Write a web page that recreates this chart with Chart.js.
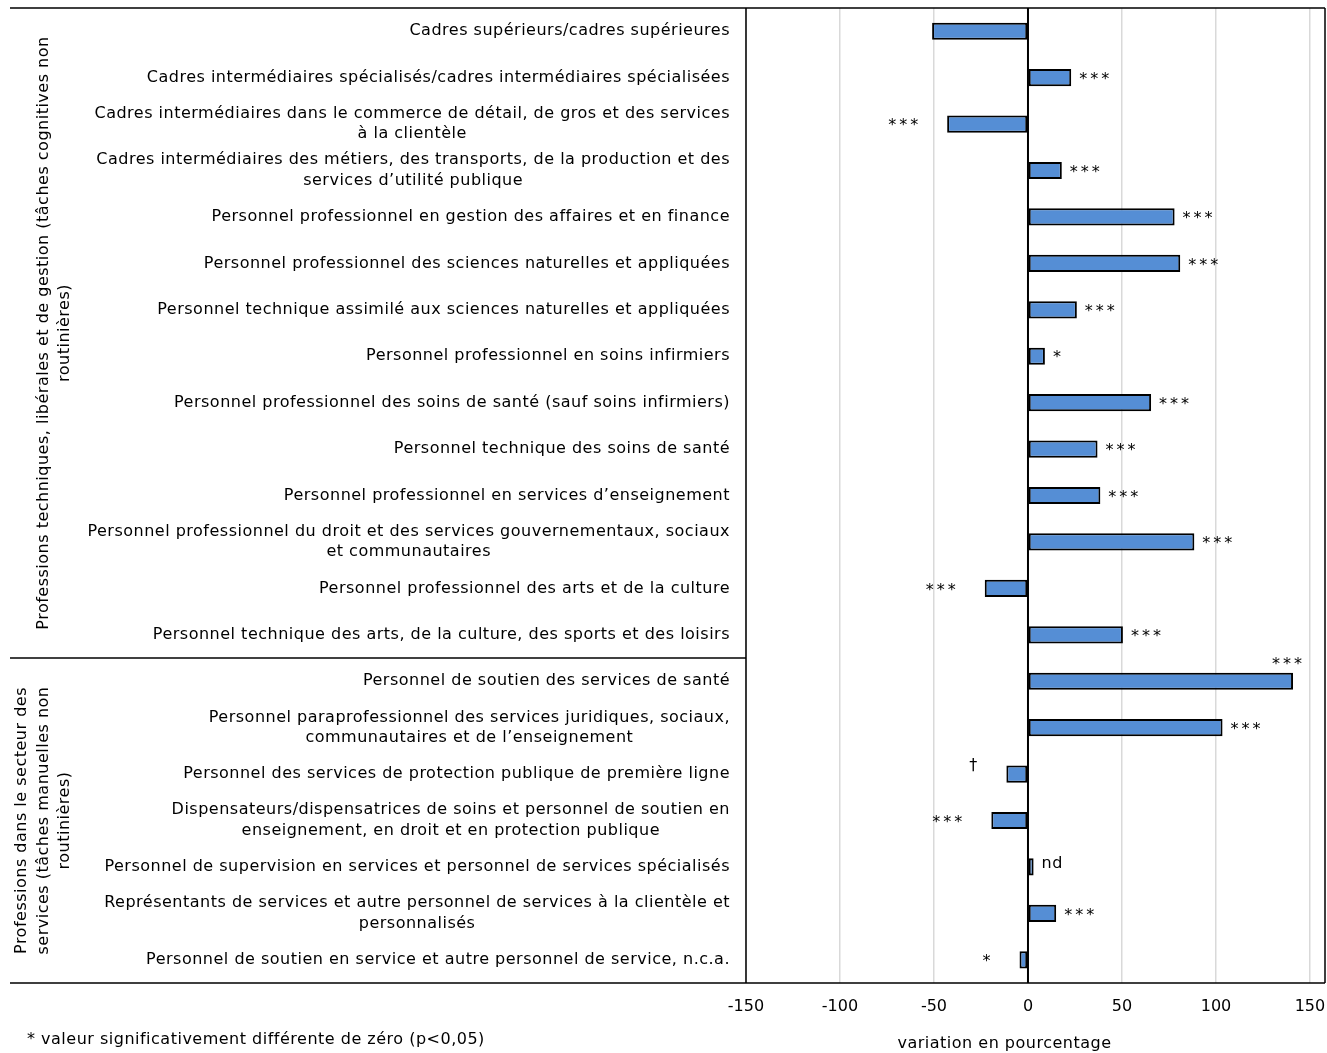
<!DOCTYPE html>
<html>
<head>
<meta charset="utf-8">
<script src="https://cdn.jsdelivr.net/npm/chart.js@4/dist/chart.umd.min.js"></script>
<style>
  body { margin: 0; background: #fff; }
  #wrap { width: 1327px; height: 1053px; position: relative; }
</style>
</head>
<body>
<div id="wrap"><canvas id="chart"></canvas></div>
<script>
// Occupation names (wrapped ones are given line by line)
const categories = [
    'Cadres supérieurs/cadres supérieures',
    'Cadres intermédiaires spécialisés/cadres intermédiaires spécialisées',
    ['Cadres intermédiaires dans le commerce de détail, de gros et des services', 'à la clientèle'],
    ['Cadres intermédiaires des métiers, des transports, de la production et des', 'services d’utilité publique'],
    'Personnel professionnel en gestion des affaires et en finance',
    'Personnel professionnel des sciences naturelles et appliquées',
    'Personnel technique assimilé aux sciences naturelles et appliquées',
    'Personnel professionnel en soins infirmiers',
    'Personnel professionnel des soins de santé (sauf soins infirmiers)',
    'Personnel technique des soins de santé',
    'Personnel professionnel en services d’enseignement',
    ['Personnel professionnel du droit et des services gouvernementaux, sociaux', 'et communautaires'],
    'Personnel professionnel des arts et de la culture',
    'Personnel technique des arts, de la culture, des sports et des loisirs',
    'Personnel de soutien des services de santé',
    ['Personnel paraprofessionnel des services juridiques, sociaux,', 'communautaires et de l’enseignement'],
    'Personnel des services de protection publique de première ligne',
    ['Dispensateurs/dispensatrices de soins et personnel de soutien en', 'enseignement, en droit et en protection publique'],
    'Personnel de supervision en services et personnel de services spécialisés',
    ['Représentants de services et autre personnel de services à la clientèle et', 'personnalisés'],
    'Personnel de soutien en service et autre personnel de service, n.c.a.'
];

// percentage change per occupation
const values = [-51, 23, -43, 18, 78, 81, 26, 9, 65.5, 37, 38.5, 88.5, -23, 50.5, 141, 103.5, -11.5, -19.5, 3, 15, -4.5];

// significance markers
const marks = ['', '***', '***', '***', '***', '***', '***', '*', '***', '***', '***', '***', '***', '***',
               '***', '***', '†', '***', 'nd', '***', '*'];

// groups of occupations, top to bottom
const groupNames = [
    ['Professions techniques, libérales et de gestion (tâches cognitives non', 'routinières)'],
    ['Professions dans le secteur des', 'services (tâches manuelles non', 'routinières)']
];
const groupSizes = [14, 7];

const xTicks = [-150, -100, -50, 0, 50, 100, 150];

const FONT = '"DejaVu Sans", Verdana, sans-serif';
const SPACING = '0.5px';

// draws the category names, group names, frame lines, markers and notes
const decorations = {
    id: 'decorations',
    afterDatasetsDraw(chart) {
        const ctx = chart.ctx;
        const area = chart.chartArea;
        const x = chart.scales.x;
        const y = chart.scales.y;
        ctx.save();

        // zero line over the bars
        const x0 = x.getPixelForValue(0);
        ctx.strokeStyle = '#000';
        ctx.lineWidth = 2;
        ctx.beginPath();
        ctx.moveTo(x0, area.top);
        ctx.lineTo(x0, area.bottom);
        ctx.stroke();

        // frame
        ctx.lineWidth = 1.5;
        ctx.beginPath();
        ctx.moveTo(10, area.top); ctx.lineTo(area.right, area.top);
        ctx.moveTo(10, area.bottom); ctx.lineTo(area.right, area.bottom);
        ctx.moveTo(area.left, area.top); ctx.lineTo(area.left, area.bottom);
        ctx.moveTo(area.right, area.top); ctx.lineTo(area.right, area.bottom);
        ctx.stroke();

        // category names, right aligned block, lines centered in the block
        ctx.fillStyle = '#000';
        ctx.font = '16px ' + FONT;
        ctx.letterSpacing = SPACING;
        ctx.textBaseline = 'middle';
        ctx.textAlign = 'center';
        categories.forEach((c, i) => {
            const lines = Array.isArray(c) ? c : [c];
            const w = Math.max(...lines.map(l => ctx.measureText(l).width));
            const cx = area.left - 16 - w / 2;
            const cy = y.getPixelForValue(i);
            lines.forEach((l, j) => {
                ctx.fillText(l, cx, cy + (j - (lines.length - 1) / 2) * 20.5);
            });
        });

        // group separators and rotated group names
        let start = 0;
        groupSizes.forEach((n, g) => {
            const top = start === 0 ? area.top : (y.getPixelForValue(start - 1) + y.getPixelForValue(start)) / 2;
            const end = start + n;
            const bottom = end >= categories.length ? area.bottom : (y.getPixelForValue(end - 1) + y.getPixelForValue(end)) / 2;
            if (end < categories.length) {
                ctx.beginPath();
                ctx.moveTo(10, bottom);
                ctx.lineTo(area.left, bottom);
                ctx.stroke();
            }
            const lines = groupNames[g];
            ctx.save();
            ctx.translate(0, (top + bottom) / 2);
            ctx.rotate(-Math.PI / 2);
            ctx.textAlign = 'center';
            lines.forEach((l, j) => {
                ctx.fillText(l, 0, 65 - (lines.length - 1 - j) * 21.5);
            });
            ctx.restore();
            start = end;
        });

        // significance markers next to the bars
        const meta = chart.getDatasetMeta(0);
        ctx.textAlign = 'left';
        meta.data.forEach((bar, i) => {
            const m = marks[i];
            if (!m) return;
            ctx.letterSpacing = m === 'nd' ? SPACING : '3px';
            const w = ctx.measureText(m).width;
            if (values[i] >= 0) {
                if (bar.x + 8 + w > area.right) {
                    ctx.fillText(m, bar.x + 12 - w, bar.y - 16);
                } else {
                    ctx.fillText(m, bar.x + 8, bar.y + (m === 'nd' ? -3 : 2));
                }
            } else {
                const dy = m === '†' ? -8 : 2;
                ctx.fillText(m, bar.x - 26 - w, bar.y + dy);
            }
        });
        ctx.letterSpacing = SPACING;

        // axis title and note
        ctx.textAlign = 'center';
        ctx.fillText('variation en pourcentage', (area.left + area.right) / 2 - 31, 1044);
        ctx.textAlign = 'left';
        ctx.fillText('* valeur significativement différente de zéro (p<0,05)', 27, 1040);
        ctx.restore();
    }
};

new Chart(document.getElementById('chart'), {
    type: 'bar',
    data: {
        labels: categories,
        datasets: [{
            data: values,
            backgroundColor: '#558ed5',
            borderColor: '#000',
            borderWidth: 2,
            borderSkipped: false,
            categoryPercentage: 1,
            barPercentage: 0.37
        }]
    },
    options: {
        indexAxis: 'y',
        responsive: true,
        maintainAspectRatio: false,
        animation: false,
        layout: { padding: { left: 10, top: 8, right: 2, bottom: 0 } },
        plugins: {
            legend: { display: false },
            tooltip: { enabled: false }
        },
        scales: {
            x: {
                min: -150,
                max: 158,
                afterBuildTicks: (scale) => { scale.ticks = xTicks.map(v => ({ value: v })); },
                afterFit: (scale) => {
                    scale.height = 70;
                    scale.paddingLeft = 0;
                    scale.paddingRight = 0;
                },
                grid: {
                    color: (c) => c.tick && c.tick.value === 0 ? 'rgba(0,0,0,0)' : '#d9d9d9',
                    lineWidth: 1.5,
                    drawTicks: false
                },
                border: { display: false },
                ticks: {
                    color: '#000',
                    padding: 14,
                    font: { family: FONT, size: 16 }
                }
            },
            y: {
                afterFit: (scale) => { scale.width = 736; },
                grid: { display: false },
                border: { display: false },
                ticks: { display: false }
            }
        }
    },
    plugins: [decorations]
});
</script>
</body>
</html>
